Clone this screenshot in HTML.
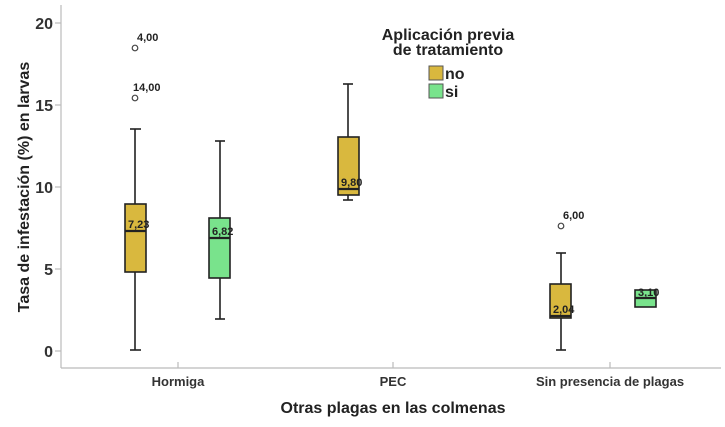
<!DOCTYPE html>
<html><head><style>
body{margin:0;background:#fff;}
svg{display:block;font-family:"Liberation Sans",sans-serif;}
</style></head><body>
<svg width="725" height="427" xmlns="http://www.w3.org/2000/svg">
<g stroke="#bbb" stroke-width="1.2" fill="none">
<line x1="61" y1="5" x2="61" y2="368"/>
<line x1="61" y1="368" x2="721" y2="368"/>
<line x1="55" y1="23" x2="61" y2="23"/><line x1="55" y1="105" x2="61" y2="105"/>
<line x1="55" y1="187" x2="61" y2="187"/><line x1="55" y1="269" x2="61" y2="269"/>
<line x1="55" y1="351" x2="61" y2="351"/>
<line x1="178" y1="362" x2="178" y2="368"/><line x1="393" y1="362" x2="393" y2="368"/><line x1="610" y1="362" x2="610" y2="368"/>
</g>
<g font-size="16" font-weight="bold" fill="#333" text-anchor="end">
<text x="53" y="29">20</text><text x="53" y="111">15</text><text x="53" y="193">10</text>
<text x="53" y="275">5</text><text x="53" y="357">0</text>
</g>
<text transform="translate(29,187) rotate(-90)" text-anchor="middle" font-size="16" font-weight="bold" fill="#222">Tasa de infestación (%) en larvas</text>
<g font-size="13" font-weight="bold" fill="#333" text-anchor="middle">
<text x="178" y="386">Hormiga</text><text x="393" y="386">PEC</text><text x="610" y="386">Sin presencia de plagas</text>
</g>
<text x="393" y="413" text-anchor="middle" font-size="16" font-weight="bold" fill="#222">Otras plagas en las colmenas</text>
<g font-size="16" font-weight="bold" fill="#222" text-anchor="middle">
<text x="448" y="40">Aplicación previa</text><text x="448" y="55">de tratamiento</text>
</g>
<rect x="429" y="66" width="14" height="14" fill="#d9b83e" stroke="#555"/>
<rect x="429" y="84" width="14" height="14" fill="#79e38c" stroke="#555"/>
<text x="445" y="79" font-size="16" font-weight="bold" fill="#222">no</text>
<text x="445" y="97" font-size="16" font-weight="bold" fill="#222">si</text>
<g stroke="#222" stroke-width="1.6">
<line x1="135" y1="129" x2="135" y2="350"/><line x1="130" y1="129" x2="141" y2="129"/><line x1="130" y1="350" x2="141" y2="350"/>
<rect x="125" y="204" width="21" height="68" fill="#d9b83e"/><line x1="125" y1="231" x2="146" y2="231" stroke-width="2.2"/>
<line x1="220" y1="141" x2="220" y2="319"/><line x1="215" y1="141" x2="225" y2="141"/><line x1="215" y1="319" x2="225" y2="319"/>
<rect x="209" y="218" width="21" height="60" fill="#79e38c"/><line x1="209" y1="238" x2="230" y2="238" stroke-width="2.2"/>
<line x1="348" y1="84" x2="348" y2="200"/><line x1="343" y1="84" x2="353" y2="84"/><line x1="343" y1="200" x2="353" y2="200"/>
<rect x="338" y="137" width="21" height="58" fill="#d9b83e"/><line x1="338" y1="189" x2="359" y2="189" stroke-width="2.2"/>
<line x1="561" y1="253" x2="561" y2="350"/><line x1="556" y1="253" x2="566" y2="253"/><line x1="556" y1="350" x2="566" y2="350"/>
<rect x="550" y="284" width="21" height="34" fill="#d9b83e"/><line x1="550" y1="316" x2="571" y2="316" stroke-width="2.2"/>
<rect x="635" y="290" width="21" height="17" fill="#79e38c"/><line x1="635" y1="298" x2="656" y2="298" stroke-width="2.2"/>
</g>
<g fill="#fff" stroke="#444" stroke-width="1.2">
<circle cx="135" cy="48" r="2.8"/><circle cx="135" cy="98" r="2.8"/><circle cx="561" cy="226" r="2.8"/>
</g>
<g font-size="11" font-weight="bold" fill="#222">
<text x="137" y="41">4,00</text><text x="133" y="91">14,00</text><text x="563" y="219">6,00</text>
<text x="128" y="228">7,23</text><text x="212" y="235">6,82</text><text x="341" y="186">9,80</text>
<text x="553" y="313">2,04</text><text x="638" y="296">3,10</text>
</g>
</svg>
</body></html>
